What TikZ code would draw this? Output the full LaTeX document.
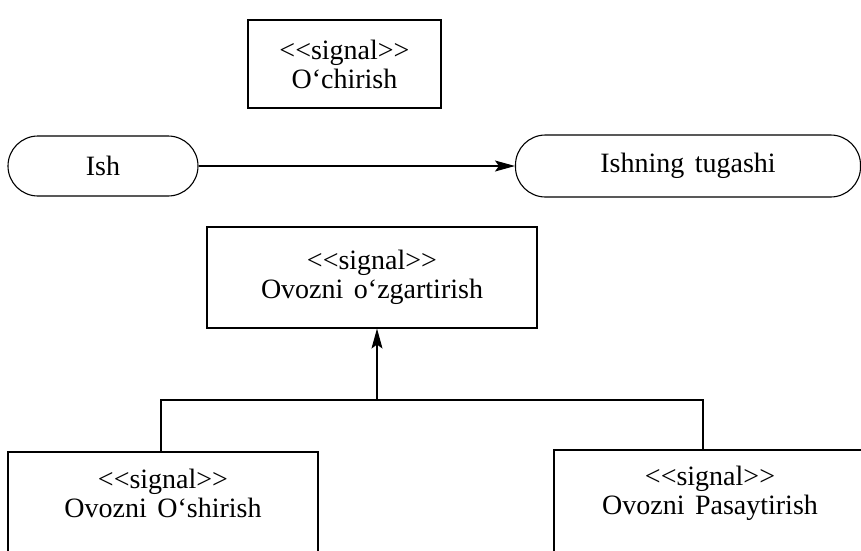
\documentclass[tikz,border=0pt]{standalone}
\usepackage{fontspec}
\setmainfont{Liberation Serif}[WordSpace=1.5]
\usetikzlibrary{arrows.meta}
\newcommand\sgl{<\kern0pt<signal>\kern0pt>}
\begin{document}
\begin{tikzpicture}[x=1pt,y=-1pt,
  every node/.style={font=\fontsize{28}{29}\selectfont, align=center, inner sep=0pt},
  box/.style={draw, line width=1.1pt, rectangle},
  pill/.style={draw, line width=1.1pt, rectangle, rounded corners=30pt},
  conn/.style={line width=1.1pt},
  arr/.style={line width=1.1pt, -{Stealth[length=20pt,width=11pt,inset=4pt]}}]
\useasboundingbox (0,0) rectangle (861,550);
\clip (0,0) rectangle (861,550);
\node[box, minimum width=193pt, minimum height=88pt] (s1) at (344.5,64) {\sgl\\O‘chirish};
\node[pill, minimum width=190pt, minimum height=60pt] (ish) at (103,166) {Ish};
\node[pill, minimum width=345pt, minimum height=62pt] (end) at (688,166) {Ishning tugashi};
\draw[arr] (ish) -- (end);
\node[box, minimum width=330pt, minimum height=101pt] (ov) at (372,277.5) {\sgl\\Ovozni o‘zgartirish};
\node[box, minimum width=310pt, minimum height=100pt,
  label={[name=lbt, align=center, yshift=9pt]center:\sgl\\Ovozni O‘shirish}] (lb) at (163,502) {};
\node[box, minimum width=312pt, minimum height=104pt,
  label={[name=rbt, align=center, yshift=9pt]center:\sgl\\Ovozni Pasaytirish}] (rb) at (710,502) {};
\coordinate (j) at (377,400);
\coordinate (cl) at (161,400);
\coordinate (cr) at (703,400);
\draw[conn] (lb.north -| cl) -- (cl) -- (cr) -- (rb.north -| cr);
\draw[arr] (j) -- (j |- ov.south);
\end{tikzpicture}
\end{document}
